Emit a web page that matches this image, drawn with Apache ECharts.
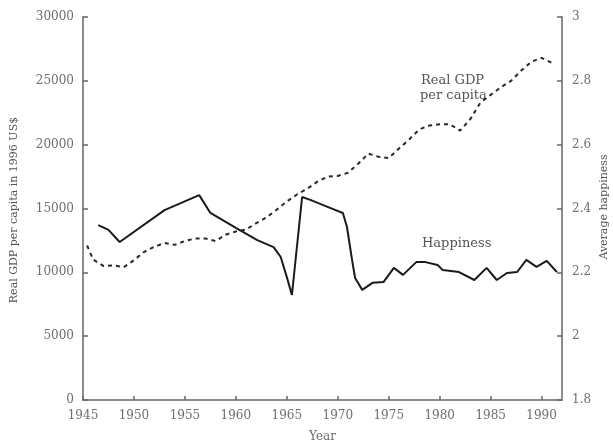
<!DOCTYPE html>
<html>
<head>
<meta charset="utf-8">
<script src="https://cdn.jsdelivr.net/npm/echarts@6/dist/echarts.min.js"></script>
<style>
html,body{margin:0;padding:0;background:#fff;}
#chart{width:613px;height:443px;}
</style>
</head>
<body>
<div id="chart"></div>
<script>
var yearTicks = [1945, 1950, 1955, 1960, 1965, 1970, 1975, 1980, 1985, 1990];

var gdpYears = [1945.4, 1946, 1947, 1948, 1949, 1950, 1951, 1952, 1953, 1954, 1955, 1956, 1957, 1958,
  1959, 1960, 1961, 1962, 1963, 1964, 1965, 1966, 1967, 1968, 1969, 1970, 1971, 1972, 1973, 1974,
  1975, 1976, 1977, 1978, 1979, 1980, 1981, 1982, 1983, 1984, 1985, 1986, 1987, 1988, 1989, 1990, 1991];
var gdpValues = [12100, 11000, 10500, 10550, 10400, 10950, 11600, 12000, 12300, 12150, 12450, 12650, 12650, 12450,
  12950, 13200, 13350, 13850, 14300, 14900, 15550, 16100, 16550, 17100, 17500, 17550, 17800, 18500, 19300, 19050,
  18950, 19700, 20400, 21200, 21500, 21600, 21600, 21100, 22000, 23300, 23900, 24500, 25000, 25800, 26500, 26800, 26400];

var hapYears = [1946.5, 1947.5, 1948.6, 1953, 1956.4, 1957.5, 1960, 1962.1, 1963.7, 1964.4, 1965, 1965.5,
  1966.5, 1967.3, 1969.3, 1970.5, 1970.9, 1971.4, 1971.7, 1972.4, 1973.4, 1974.5, 1975.5, 1976.4, 1977.7,
  1978.6, 1979.8, 1980.3, 1981.9, 1983.4, 1984.6, 1985.6, 1986.6, 1987.6, 1988.5, 1989.5, 1990.5, 1991.5];
var hapValues = [2.348, 2.333, 2.295, 2.395, 2.442, 2.386, 2.339, 2.301, 2.279, 2.248, 2.185, 2.129,
  2.436, 2.427, 2.401, 2.386, 2.342, 2.239, 2.182, 2.145, 2.167, 2.170, 2.214, 2.192, 2.232,
  2.232, 2.223, 2.207, 2.201, 2.176, 2.214, 2.176, 2.198, 2.201, 2.239, 2.217, 2.236, 2.201];

var gdpTitle = 'Real GDP per capita in 1996 US$';
var hapTitle = 'Average happiness';
var xTitle = 'Year';
var gdpNote = ['Real GDP', 'per capita'];
var hapNote = 'Happiness';

function pairs(xs, ys) { return xs.map(function (x, i) { return [x, ys[i]]; }); }

var FONT = 'DejaVu Serif';
var axisCol = '#8c8c8c';
var labCol = '#6e6e6e';

var chart = echarts.init(document.getElementById('chart'), null, {renderer: 'canvas'});
chart.setOption({
  animation: false,
  backgroundColor: '#fff',
  grid: {left: 83, right: 51, top: 17, bottom: 43, containLabel: false, outerBoundsMode: 'none'},
  xAxis: {
    type: 'value', min: 1945, max: 1992, interval: 5,
    name: xTitle, nameLocation: 'middle', nameGap: 31,
    nameTextStyle: {fontFamily: FONT, fontSize: 12, color: labCol},
    axisLine: {lineStyle: {color: axisCol, width: 2}},
    axisTick: {show: true, inside: true, length: 4, customValues: yearTicks, lineStyle: {color: '#666', width: 1.5}},
    axisLabel: {customValues: yearTicks, fontFamily: FONT, fontSize: 12, color: labCol, margin: 10,
      formatter: function (v) { return String(v); }},
    splitLine: {show: false}
  },
  yAxis: [{
    type: 'value', min: 0, max: 30000, interval: 5000, position: 'left',
    axisLine: {show: true, lineStyle: {color: axisCol, width: 2}},
    axisTick: {show: true, inside: true, length: 5, lineStyle: {color: '#666', width: 1.5}},
    axisLabel: {fontFamily: FONT, fontSize: 12, color: labCol, margin: 9,
      formatter: function (v) { return String(Math.round(v)); }},
    splitLine: {show: false}
  }, {
    type: 'value', min: 1.8, max: 3, interval: 0.2, position: 'right',
    axisLine: {show: true, lineStyle: {color: axisCol, width: 2}},
    axisTick: {show: true, inside: true, length: 5, lineStyle: {color: '#666', width: 1.5}},
    axisLabel: {fontFamily: FONT, fontSize: 12, color: labCol, margin: 10,
      formatter: function (v) { return String(Math.round(v * 10) / 10); }},
    splitLine: {show: false}
  }],
  series: [{
    name: 'Real GDP per capita', type: 'line', yAxisIndex: 0,
    data: pairs(gdpYears, gdpValues), symbol: 'none',
    lineStyle: {color: '#2a2a2a', width: 2, type: [4, 4]}
  }, {
    name: 'Happiness', type: 'line', yAxisIndex: 1,
    data: pairs(hapYears, hapValues), symbol: 'none',
    lineStyle: {color: '#1a1a1a', width: 2}
  }],
  graphic: [
    {type: 'text', x: 14, y: 210, rotation: Math.PI / 2,
      style: {text: gdpTitle, font: '11px "DejaVu Serif"', fill: '#555', align: 'center', verticalAlign: 'middle'}},
    {type: 'text', x: 604, y: 207, rotation: Math.PI / 2,
      style: {text: hapTitle, font: '11px "DejaVu Serif"', fill: '#555', align: 'center', verticalAlign: 'middle'}},
    {type: 'text', x: 421, y: 81,
      style: {text: gdpNote[0], font: '13px "DejaVu Serif"', fill: '#555', align: 'left', verticalAlign: 'middle'}},
    {type: 'text', x: 420, y: 96,
      style: {text: gdpNote[1], font: '13px "DejaVu Serif"', fill: '#555', align: 'left', verticalAlign: 'middle'}},
    {type: 'text', x: 422, y: 244,
      style: {text: hapNote, font: '13px "DejaVu Serif"', fill: '#555', align: 'left', verticalAlign: 'middle'}}
  ]
});
</script>
</body>
</html>
